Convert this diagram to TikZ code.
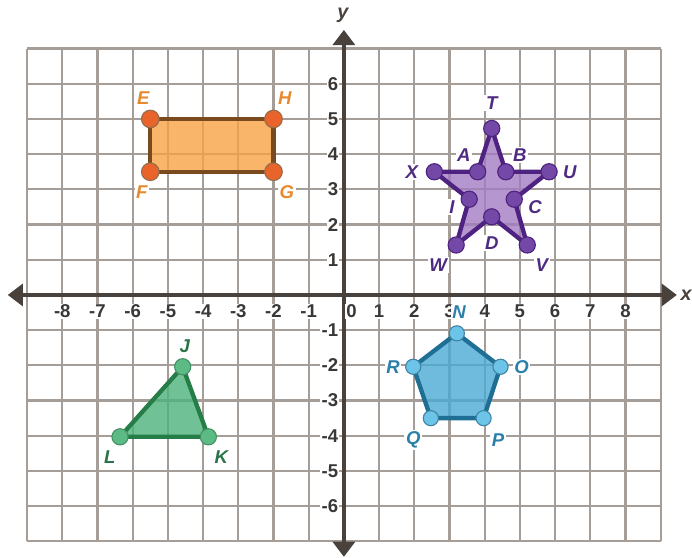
\documentclass[tikz,border=0pt]{standalone}
\usepackage{fontspec}
\setmainfont{Liberation Sans}
\usepackage{xcolor}
\usepackage{tikz}
\usetikzlibrary{arrows.meta}
\definecolor{gridc}{HTML}{A59E98}
\definecolor{axisc}{HTML}{48413C}
\definecolor{tickc}{HTML}{3A3836}
\definecolor{orfill}{HTML}{F7A244}
\definecolor{orline}{HTML}{7A4A1E}
\definecolor{ordot}{HTML}{E8642A}
\definecolor{ortext}{HTML}{E8892E}
\definecolor{pufill}{HTML}{A27CC2}
\definecolor{puline}{HTML}{4E2280}
\definecolor{pudot}{HTML}{7448A6}
\definecolor{putext}{HTML}{4E2A80}
\definecolor{blfill}{HTML}{4AAAD4}
\definecolor{blline}{HTML}{1F6E94}
\definecolor{bldot}{HTML}{6CC4E8}
\definecolor{bltext}{HTML}{2A80A8}
\definecolor{grfill}{HTML}{4CB27A}
\definecolor{grline}{HTML}{257E48}
\definecolor{grdot}{HTML}{5CBB84}
\definecolor{grtext}{HTML}{2A7448}
\tikzset{
  gridl/.style={draw=gridc, line width=1.8pt},
  axis/.style={draw=axisc, line width=3.2pt,
    {Triangle[length=4.3mm,width=6.2mm]}-{Triangle[length=4.3mm,width=6.2mm]}},
  tick/.style={text=tickc, fill=white, inner sep=1pt, font=\bfseries\fontsize{15}{15}\selectfont},
  axlab/.style={text=axisc, font=\bfseries\itshape\fontsize{16}{16}\selectfont},
  figshape/.style={line width=3.5pt, line join=round, fill opacity=0.8},
  dot/.style={circle, inner sep=0pt, line width=0.9pt},
  lab/.style={fill=white, inner sep=1.3pt, font=\bfseries\itshape\fontsize{15}{15}\selectfont},
}

\begin{document}
\begin{tikzpicture}[x=1cm,y=1cm]
  \useasboundingbox (-9.77,-7.47) rectangle (9.89,8.38);

  % grid and axes
  \draw[gridl] (-9,-7) grid (9,7);
  \draw[axis] (-9.55,0) -- (9.46,0);
  \draw[axis] (0,-7.44) -- (0,7.53);
  \node[axlab] (xname) at (9.72,0) {x};
  \node[axlab] (yname) at (-0.03,7.95) {y};

  \foreach \i in {-8,...,-1,1,2,...,8}
    \node[tick] (xt\i) at (\i,-0.47) {\i};
  \foreach \j in {-6,...,-1,1,2,...,6}
    \node[tick,anchor=east] (yt\j) at (-0.12,\j) {\j};
  \node[tick] (zero) at (0.22,-0.47) {0};

  % rectangle EFGH
  \coordinate (E) at (-5.5,5);
  \coordinate (H) at (-2,5);
  \coordinate (G) at (-2,3.5);
  \coordinate (F) at (-5.5,3.5);
  \filldraw[figshape, draw=orline, fill=orfill] (E) -- (H) -- (G) -- (F) -- cycle;
  \foreach \p in {E,H,G,F}
    \node[dot, fill=ordot, draw=orline!80, minimum size=5mm] (d\p) at (\p) {};
  \node[lab, text=ortext] (lE) at (-5.7,5.6) {E};
  \node[lab, text=ortext] (lH) at (-1.68,5.6) {H};
  \node[lab, text=ortext] (lF) at (-5.74,2.93) {F};
  \node[lab, text=ortext] (lG) at (-1.62,2.93) {G};

  % star
  \coordinate (T) at (4.2,4.73);
  \coordinate (B) at (4.6,3.5);
  \coordinate (U) at (5.83,3.5);
  \coordinate (C) at (4.84,2.72);
  \coordinate (V) at (5.21,1.42);
  \coordinate (D) at (4.2,2.22);
  \coordinate (W) at (3.19,1.42);
  \coordinate (I) at (3.56,2.72);
  \coordinate (X) at (2.57,3.5);
  \coordinate (A) at (3.8,3.5);
  \filldraw[figshape, draw=puline, fill=pufill]
    (T) -- (B) -- (U) -- (C) -- (V) -- (D) -- (W) -- (I) -- (X) -- (A) -- cycle;
  \foreach \p in {T,B,U,C,V,D,W,I,X,A}
    \node[dot, fill=pudot, draw=puline, minimum size=4.6mm] (d\p) at (\p) {};
  \node[lab, text=putext] (lT) at (4.2,5.45) {T};
  \node[lab, text=putext] (lA) at (3.41,3.98) {A};
  \node[lab, text=putext] (lB) at (5.0,3.98) {B};
  \node[lab, text=putext] (lX) at (1.93,3.48) {X};
  \node[lab, text=putext] (lU) at (6.42,3.48) {U};
  \node[lab, text=putext] (lI) at (3.07,2.5) {I};
  \node[lab, text=putext] (lC) at (5.43,2.5) {C};
  \node[lab, text=putext] (lD) at (4.2,1.47) {D};
  \node[lab, text=putext] (lW) at (2.68,0.85) {W};
  \node[lab, text=putext] (lV) at (5.62,0.85) {V};

  % pentagon NOPQR
  \coordinate (N) at (3.21,-1.09);
  \coordinate (O) at (4.45,-2.04);
  \coordinate (P) at (3.97,-3.5);
  \coordinate (Q) at (2.47,-3.5);
  \coordinate (R) at (1.97,-2.04);
  \filldraw[figshape, draw=blline, fill=blfill] (N) -- (O) -- (P) -- (Q) -- (R) -- cycle;
  \foreach \p in {N,O,P,Q,R}
    \node[dot, fill=bldot, draw=blline!85, minimum size=4.3mm] (d\p) at (\p) {};
  \node[lab, text=bltext] (lN) at (3.27,-0.5) {N};
  \node[lab, text=bltext] (lO) at (5.05,-2.04) {O};
  \node[lab, text=bltext] (lR) at (1.4,-2.04) {R};
  \node[lab, text=bltext] (lQ) at (1.97,-4.12) {Q};
  \node[lab, text=bltext] (lP) at (4.38,-4.12) {P};

  % triangle JKL
  \coordinate (J) at (-4.58,-2.04);
  \coordinate (K) at (-3.85,-4.03);
  \coordinate (L) at (-6.36,-4.03);
  \filldraw[figshape, draw=grline, fill=grfill] (J) -- (K) -- (L) -- cycle;
  \foreach \p in {J,K,L}
    \node[dot, fill=grdot, draw=grline!85, minimum size=4.6mm] (d\p) at (\p) {};
  \node[lab, text=grtext] (lJ) at (-4.52,-1.45) {J};
  \node[lab, text=grtext] (lK) at (-3.48,-4.6) {K};
  \node[lab, text=grtext] (lL) at (-6.65,-4.62) {L};
\end{tikzpicture}
\end{document}
